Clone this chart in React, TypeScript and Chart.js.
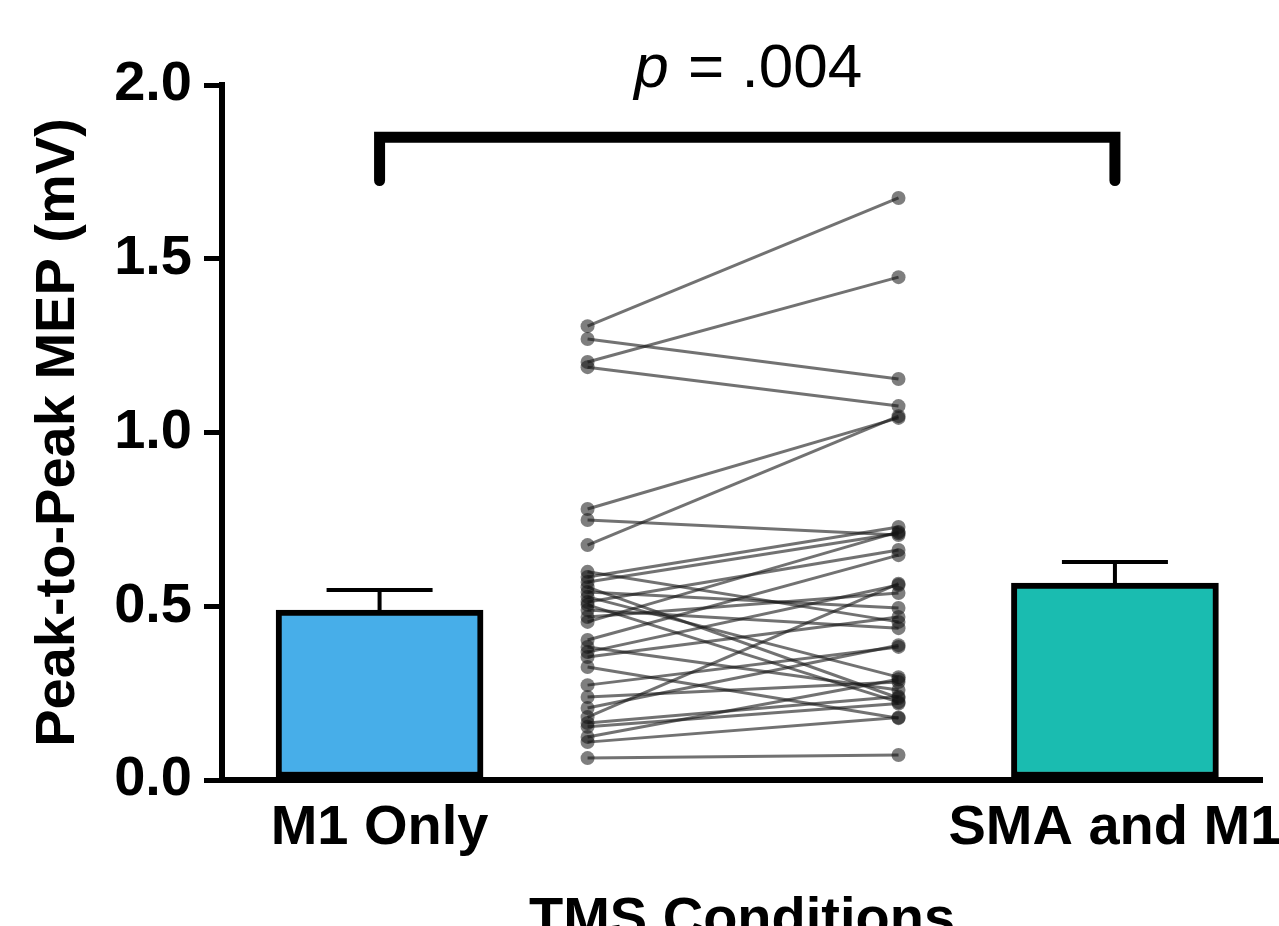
import React, { useEffect, useRef } from "react";
import { Chart, registerables } from "chart.js";

Chart.register(...registerables);

// ---- Data ----
const categories = ["M1 Only", "SMA and M1"];
const barPositions = [1.5, 8.5];
const barMeans = [0.489, 0.567];
const barErrors = [0.058, 0.06];
const pairPositions = [3.48, 6.44];
const m1Values = [
  1.306, 1.269, 1.203, 1.188, 0.78, 0.676, 0.748, 0.599, 0.584, 0.57, 0.555,
  0.541, 0.527, 0.512, 0.504, 0.489, 0.469, 0.455, 0.403, 0.383, 0.368, 0.354,
  0.325, 0.273, 0.239, 0.207, 0.181, 0.164, 0.153, 0.124, 0.109, 0.063,
];
const smaValues = [
  1.675, 1.154, 1.447, 1.076, 1.042, 1.047, 0.705, 0.455, 0.728, 0.71, 0.236,
  0.495, 0.296, 0.662, 0.224, 0.437, 0.538, 0.714, 0.647, 0.259, 0.561, 0.469,
  0.178, 0.383, 0.282, 0.388, 0.565, 0.24, 0.22, 0.29, 0.18, 0.072,
];
const yTickValues = [0, 0.5, 1.0, 1.5, 2.0];
const pLetter = "p";
const pRest = " = .004";
const bracketLevel = 1.85;
const bracketLegEnd = 1.725;

const FONT = "'Liberation Sans', Arial, Helvetica, sans-serif";

const annotations = {
  id: "annotations",
  afterDatasetsDraw(chart: any) {
    const { ctx, scales } = chart;
    const xs = scales.x;
    const ys = scales.y;
    ctx.save();
    // error bars
    ctx.strokeStyle = "#000";
    ctx.lineWidth = 4;
    ctx.lineCap = "butt";
    barPositions.forEach((bx, i) => {
      const px = xs.getPixelForValue(bx);
      const y1 = ys.getPixelForValue(barMeans[i]);
      const y2 = ys.getPixelForValue(barMeans[i] + barErrors[i]);
      ctx.beginPath();
      ctx.moveTo(px, y1);
      ctx.lineTo(px, y2);
      ctx.moveTo(px - 53, y2);
      ctx.lineTo(px + 53, y2);
      ctx.stroke();
    });
    // bracket
    const lx = xs.getPixelForValue(barPositions[0]);
    const rx = xs.getPixelForValue(barPositions[1]);
    const by = ys.getPixelForValue(bracketLevel);
    const ly = ys.getPixelForValue(bracketLegEnd);
    ctx.lineWidth = 11;
    ctx.lineJoin = "miter";
    ctx.lineCap = "round";
    ctx.beginPath();
    ctx.moveTo(lx, ly);
    ctx.lineTo(lx, by);
    ctx.lineTo(rx, by);
    ctx.lineTo(rx, ly);
    ctx.stroke();
    // p-value text
    ctx.fillStyle = "#000";
    ctx.textBaseline = "alphabetic";
    ctx.textAlign = "left";
    const italic = `italic 62px ${FONT}`;
    const normal = `62px ${FONT}`;
    ctx.font = italic;
    const w1 = ctx.measureText(pLetter).width;
    ctx.font = normal;
    const w2 = ctx.measureText(pRest).width;
    const cx = (lx + rx) / 2;
    const startX = cx - (w1 + w2) / 2;
    const baseY = by - 50;
    ctx.font = italic;
    ctx.fillText(pLetter, startX, baseY);
    ctx.font = normal;
    ctx.fillText(pRest, startX + w1 + 2, baseY);
    ctx.restore();
  },
};

export default function App() {
  const canvasRef = useRef<HTMLCanvasElement | null>(null);

  useEffect(() => {
    const canvas = canvasRef.current;
    if (!canvas) return;

    const pairDatasets = m1Values.map((v, i) => ({
      type: "line" as const,
      data: [
        { x: pairPositions[0], y: v },
        { x: pairPositions[1], y: smaValues[i] },
      ],
      borderColor: "rgba(20,20,20,0.6)",
      borderWidth: 3,
      pointRadius: 7,
      pointBackgroundColor: "rgba(20,20,20,0.55)",
      pointBorderWidth: 0,
      pointHoverRadius: 7,
      fill: false,
      order: 0,
    }));

    const chart = new Chart(canvas, {
      type: "bar",
      data: {
        datasets: [
          {
            type: "bar" as const,
            data: barPositions.map((x, i) => ({ x, y: barMeans[i] })),
            backgroundColor: ["#47AEE9", "#1ABCB0"],
            borderColor: "#000",
            borderWidth: 6,
            borderSkipped: false,
            barThickness: 207,
            order: 1,
          } as any,
          ...pairDatasets,
        ],
      },
      options: {
        animation: false,
        responsive: true,
        maintainAspectRatio: false,
        layout: { padding: { top: 85, left: 0, right: 17, bottom: 0 } },
        plugins: {
          legend: { display: false },
          tooltip: { enabled: false },
        },
        scales: {
          x: {
            type: "linear",
            min: 0,
            max: 9.9,
            offset: false,
            grid: { display: false },
            border: { display: true, color: "#000", width: 6 },
            afterBuildTicks: (scale: any) => {
              scale.ticks = barPositions.map((v) => ({ value: v }));
            },
            afterFit: (scale: any) => {
              scale.height = 180;
              scale.paddingLeft = 0;
              scale.paddingRight = 0;
            },
            ticks: {
              autoSkip: false,
              maxRotation: 0,
              minRotation: 0,
              padding: 7,
              color: "#000",
              font: { family: FONT, size: 56, weight: "bold" },
              callback: (_v: any, i: number) => categories[i],
            },
            title: {
              display: true,
              text: "TMS Conditions",
              color: "#000",
              font: { family: FONT, size: 56, weight: "bold" },
              padding: { top: 0, bottom: 6 },
            },
          },
          y: {
            type: "linear",
            min: 0,
            max: 2,
            grid: {
              display: true,
              drawOnChartArea: false,
              drawTicks: true,
              tickLength: 18,
              lineWidth: 5,
              color: "#000",
            },
            border: { display: true, color: "#000", width: 6 },
            afterBuildTicks: (scale: any) => {
              scale.ticks = yTickValues.map((v) => ({ value: v }));
            },
            afterFit: (scale: any) => {
              scale.width = 222;
            },
            ticks: {
              padding: 12,
              color: "#000",
              font: { family: FONT, size: 56, weight: "bold" },
              callback: (v: any) => Number(v).toFixed(1),
            },
            title: {
              display: true,
              text: "Peak-to-Peak MEP (mV)",
              color: "#000",
              font: { family: FONT, size: 56, weight: "bold" },
              padding: { top: 25, bottom: 0 },
            },
          },
        },
      } as any,
      plugins: [annotations],
    });

    return () => chart.destroy();
  }, []);

  return (
    <div
      style={{
        position: "fixed",
        left: 0,
        top: 0,
        width: 1279,
        height: 926,
        overflow: "hidden",
        background: "#fff",
      }}
    >
      <div style={{ position: "relative", width: 1279, height: 960 }}>
        <canvas ref={canvasRef} />
      </div>
    </div>
  );
}
